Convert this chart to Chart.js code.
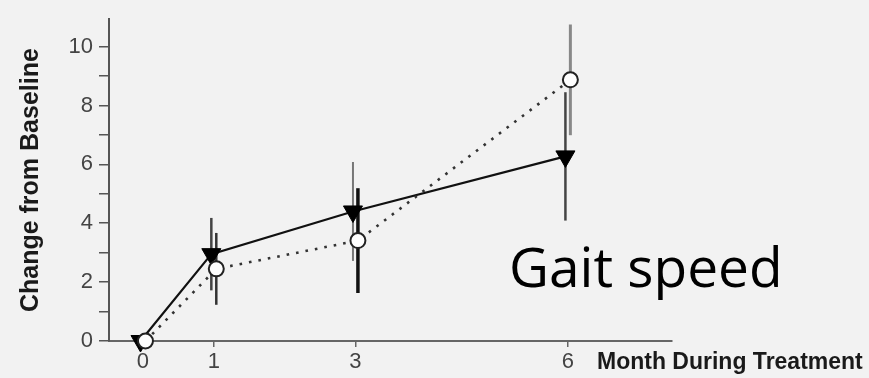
<!DOCTYPE html>
<html lang="en">
<head>
    <meta charset="UTF-8">
    <title>Gait speed - change from baseline</title>
    <script src="https://cdn.jsdelivr.net/npm/chart.js@4.4.1/dist/chart.umd.min.js"></script>
    <style>
        body, html {
            margin: 0;
            background-color: #f2f2f2;
        }
        #wrap {
            width: 869px;
            height: 378px;
            position: relative;
        }
    </style>
</head>
<body>
    <div id="wrap"><canvas id="gait"></canvas></div>
    <script>
        // Data
        const months = [0, 1, 3, 6];
        const triMean = [0, 2.95, 4.4, 6.27];
        const triErr = [0, 1.23, 1.68, 2.18];
        const circMean = [0, 2.45, 3.41, 8.87];
        const circErr = [0, 1.22, 1.78, 1.88];
        const xTicks = [0, 1, 3, 6];
        const yTicks = [0, 1, 2, 3, 4, 5, 6, 7, 8, 9, 10];

        const axisFont = "'Liberation Sans', Arial, sans-serif";
        const dodge = 0.035; // the two groups are drawn slightly apart

        // error bars drawn under the markers, positioned through the chart scales
        const errorBars = {
            id: 'errorBars',
            beforeDatasetsDraw(chart, args, opts) {
                const ctx = chart.ctx;
                const y = chart.scales.y;
                chart.data.datasets.forEach((ds, i) => {
                    const meta = chart.getDatasetMeta(i);
                    const st = opts[ds.errKey];
                    meta.data.forEach((pt, j) => {
                        const e = ds.err[j];
                        if (!e) return;
                        const m = ds.data[j].y;
                        ctx.save();
                        ctx.strokeStyle = st.colors[j];
                        ctx.lineWidth = st.widths[j];
                        ctx.beginPath();
                        ctx.moveTo(pt.x, y.getPixelForValue(m + e));
                        ctx.lineTo(pt.x, y.getPixelForValue(m - e));
                        ctx.stroke();
                        ctx.restore();
                    });
                });
            }
        };

        // axis label beside the x ticks and the big slide caption
        const labels = {
            id: 'labels',
            afterDraw(chart) {
                const ctx = chart.ctx;
                ctx.save();
                ctx.fillStyle = '#1a1a1a';
                ctx.font = "bold 23px " + axisFont;
                ctx.textBaseline = 'alphabetic';
                ctx.fillText('Month During Treatment', 597, 369);
                ctx.fillStyle = '#000';
                ctx.font = "55px 'Open Sans', sans-serif";
                ctx.fillText('Gait speed', 509, 287);
                ctx.restore();
            }
        };

        const ctx = document.getElementById('gait').getContext('2d');
        new Chart(ctx, {
            type: 'line',
            data: {
                datasets: [{
                    label: 'Group A',
                    data: months.map((m, i) => ({ x: m - dodge, y: triMean[i] })),
                    err: triErr,
                    errKey: 'tri',
                    borderColor: '#111',
                    borderWidth: 2.2,
                    pointStyle: 'triangle',
                    pointRotation: 180,
                    pointRadius: 11,
                    pointBackgroundColor: '#000',
                    pointBorderColor: '#000',
                    pointBorderWidth: 1,
                    order: 1,
                    clip: false
                }, {
                    label: 'Group B',
                    data: months.map((m, i) => ({ x: m + dodge, y: circMean[i] })),
                    err: circErr,
                    errKey: 'circ',
                    borderColor: '#333',
                    borderWidth: 2.6,
                    borderDash: [2.6, 7],
                    pointStyle: 'circle',
                    pointRadius: 7.5,
                    pointBackgroundColor: '#fff',
                    pointBorderColor: '#222',
                    pointBorderWidth: 2,
                    order: 0,
                    clip: false
                }]
            },
            options: {
                responsive: true,
                maintainAspectRatio: false,
                animation: false,
                layout: { padding: { top: 9, right: 197, left: 0, bottom: 0 } },
                plugins: {
                    legend: { display: false },
                    tooltip: { enabled: false },
                    errorBars: {
                        tri: { colors: ['#444', '#444', '#777', '#444'], widths: [2.5, 2.5, 2, 2.5] },
                        circ: { colors: ['#333', '#333', '#111', '#888'], widths: [2.5, 2.5, 3.5, 3] }
                    }
                },
                scales: {
                    x: {
                        type: 'linear',
                        min: -0.48,
                        max: 7.47,
                        afterBuildTicks: s => { s.ticks = xTicks.map(v => ({ value: v })); },
                        afterFit: s => { s.height = 37; },
                        grid: { drawOnChartArea: false, tickLength: 6, color: '#666', lineWidth: 1.5 },
                        border: { color: '#666', width: 2 },
                        ticks: { color: '#444', font: { family: axisFont, size: 22 }, padding: 2 }
                    },
                    y: {
                        min: 0,
                        max: 10.93,
                        afterBuildTicks: s => { s.ticks = yTicks.map(v => ({ value: v })); },
                        afterFit: s => { s.width = 109; },
                        grid: { drawOnChartArea: false, tickLength: 10, color: '#555', lineWidth: 1.5 },
                        border: { color: '#555', width: 2 },
                        ticks: {
                            color: '#444',
                            font: { family: axisFont, size: 22 },
                            padding: 6,
                            callback: v => (v % 2 === 0 ? v : '')
                        },
                        title: {
                            display: true,
                            text: 'Change from Baseline',
                            color: '#1a1a1a',
                            font: { family: axisFont, size: 25, weight: 'bold' },
                            padding: { top: 16, bottom: 0 }
                        }
                    }
                }
            },
            plugins: [errorBars, labels]
        });
    </script>
</body>
</html>
